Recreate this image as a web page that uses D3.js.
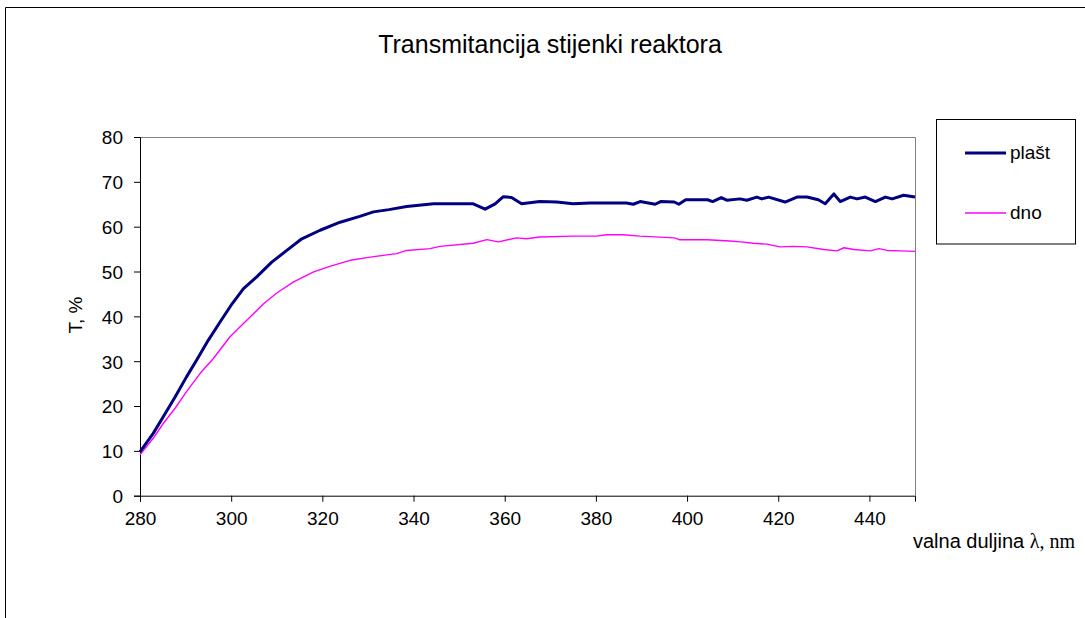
<!DOCTYPE html>
<html>
<head>
<meta charset="utf-8">
<script src="https://cdn.jsdelivr.net/npm/d3@7"></script>
<style>
  html, body { margin: 0; padding: 0; background: #fff; }
  svg { display: block; }
  text { font-family: "Liberation Sans", Arial, sans-serif; fill: #000; }
</style>
</head>
<body>
<svg id="chart" width="1085" height="618"></svg>
<script>
// Transmittance of the reactor walls (jacket = "plašt", bottom = "dno")
const seriesNames = ["plašt", "dno"];
const xTicks = [280, 300, 320, 340, 360, 380, 400, 420, 440];
const yTicks = [0, 10, 20, 30, 40, 50, 60, 70, 80];

const plastWavelength = [280, 282.9, 285.1, 287.7, 290.2, 292.4, 295, 297.6, 300.2, 302.7, 305.6, 308.9, 312.2, 315.5,
  319.5, 323.9, 328.2, 331.2, 334.6, 338.5, 344.4, 353.1, 355.7, 357.9, 359.7, 361.5, 363.7, 367.7, 371.4, 375,
  378.7, 382.4, 386.7, 388.2, 389.7, 393, 394.2, 397.2, 398.2, 399.7, 404.5, 405.6, 407.5, 408.7, 411.6, 413.1,
  415.3, 416.4, 417.9, 421.5, 424.1, 426.3, 428.8, 430.3, 432.2, 433.6, 435.8, 437.3, 439.1, 441.3, 443.5, 445,
  447.5, 450];
const plast = [9.8, 13.9, 17.6, 22, 26.5, 30.2, 34.7, 38.8, 42.8, 46.2, 48.8, 52.1, 54.7, 57.3,
  59.2, 61.0, 62.3, 63.3, 63.8, 64.5, 65.1, 65.1, 63.9, 65.1, 66.7, 66.5, 65.1, 65.6, 65.5, 65.1,
  65.3, 65.3, 65.3, 65.0, 65.6, 65.0, 65.6, 65.5, 65.0, 66.0, 66.0, 65.6, 66.5, 65.9, 66.2, 65.9,
  66.6, 66.2, 66.6, 65.5, 66.6, 66.6, 66.0, 65.1, 67.3, 65.6, 66.6, 66.2, 66.6, 65.6, 66.6, 66.2,
  67.0, 66.6];

const dnoWavelength = [280, 282.9, 285.1, 287.7, 290.2, 293.2, 296.1, 299.7, 302.7, 307.1, 310, 313.7, 318.1,
  321.8, 326.1, 330.5, 336.3, 338.5, 343.6, 345.8, 353.1, 356.1, 358.6, 362.6, 364.8, 367.7, 375, 380.1,
  382.4, 386, 389.7, 397.2, 398.3, 404.5, 409.4, 411.8, 414.5, 417.5, 420.4, 423.3, 426.3, 430, 432.9,
  434.4, 436.6, 440.2, 442.1, 443.9, 446.8, 450];
const dno = [9.1, 12.8, 16.1, 19.5, 23.2, 27.3, 30.6, 35.4, 38.4, 42.8, 45.2, 47.7, 49.9,
  51.2, 52.5, 53.2, 54.0, 54.7, 55.1, 55.6, 56.3, 57.1, 56.6, 57.5, 57.3, 57.7, 57.9, 57.9,
  58.2, 58.2, 57.9, 57.5, 57.1, 57.1, 56.8, 56.6, 56.3, 56.1, 55.5, 55.6, 55.5, 54.9, 54.6,
  55.3, 54.9, 54.6, 55.1, 54.7, 54.6, 54.5];

const colors = ["#000080", "#ff00ff"];
const widths = [3, 1.4];

const svg = d3.select("#chart");

// outer chart frame
svg.append("path")
  .attr("d", "M5.5,618 V7.5 H1085")
  .attr("fill", "none")
  .attr("stroke", "#000")
  .attr("stroke-width", 1);

const plot = { left: 140, right: 915, top: 137, bottom: 495.7 };

const x = d3.scaleLinear().domain([280, 450]).range([plot.left, plot.right]);
const y = d3.scaleLinear().domain([0, 80]).range([plot.bottom, plot.top]);

// plot area border (grey top and right edges)
svg.append("path")
  .attr("d", `M${plot.left},${plot.top + 0.5} H${plot.right + 0.5} V${plot.bottom}`)
  .attr("fill", "none")
  .attr("stroke", "#808080")
  .attr("stroke-width", 1);

// title
svg.append("text")
  .attr("x", 550).attr("y", 53)
  .attr("text-anchor", "middle")
  .attr("font-size", 25)
  .text("Transmitancija stijenki reaktora");

// axes
const xAxis = d3.axisBottom(x).tickValues(xTicks).tickSize(6).tickPadding(10).tickFormat(d3.format("d"));
const yAxis = d3.axisLeft(y).tickValues(yTicks).tickSize(6).tickPadding(11).tickFormat(d3.format("d"));

const gx = svg.append("g").attr("transform", `translate(0,${plot.bottom})`).call(xAxis);
const gy = svg.append("g").attr("transform", `translate(${plot.left},0)`).call(yAxis);
[gx, gy].forEach(g => {
  g.select(".domain").attr("stroke", "#000");
  g.selectAll(".tick line").attr("stroke", "#000");
  g.selectAll(".tick text")
    .attr("font-family", "Liberation Sans, Arial, sans-serif")
    .attr("font-size", 19)
    .attr("fill", "#000");
});
gy.selectAll(".tick text").attr("dy", "0.36em");

// axis titles
svg.append("text")
  .attr("transform", "translate(82,315) rotate(-90)")
  .attr("text-anchor", "middle")
  .attr("font-size", 19)
  .text("T, %");

const xl = svg.append("text")
  .attr("x", 913).attr("y", 548)
  .attr("font-size", 20);
xl.append("tspan").text("valna duljina ");
xl.append("tspan")
  .attr("font-family", "Liberation Serif, Times New Roman, serif")
  .attr("font-size", 20)
  .text("λ, nm");

// series lines
const line = d3.line().x(d => x(d[0])).y(d => y(d[1]));
const series = [
  d3.zip(plastWavelength, plast),
  d3.zip(dnoWavelength, dno)
];
// draw "dno" first so "plašt" sits on top
[1, 0].forEach(i => {
  svg.append("path")
    .datum(series[i])
    .attr("d", line)
    .attr("fill", "none")
    .attr("stroke", colors[i])
    .attr("stroke-width", widths[i])
    .attr("stroke-linejoin", "round");
});

// legend
const legend = svg.append("g");
legend.append("rect")
  .attr("x", 936.5).attr("y", 119.5)
  .attr("width", 139).attr("height", 124.5)
  .attr("fill", "#fff")
  .attr("stroke", "#000")
  .attr("stroke-width", 1);
const legendY = [153, 213];
seriesNames.forEach((name, i) => {
  legend.append("line")
    .attr("x1", 965).attr("x2", 1006)
    .attr("y1", legendY[i]).attr("y2", legendY[i])
    .attr("stroke", colors[i])
    .attr("stroke-width", widths[i]);
  legend.append("text")
    .attr("x", 1010).attr("y", legendY[i] + 6)
    .attr("font-size", 19)
    .text(name);
});
</script>
</body>
</html>
